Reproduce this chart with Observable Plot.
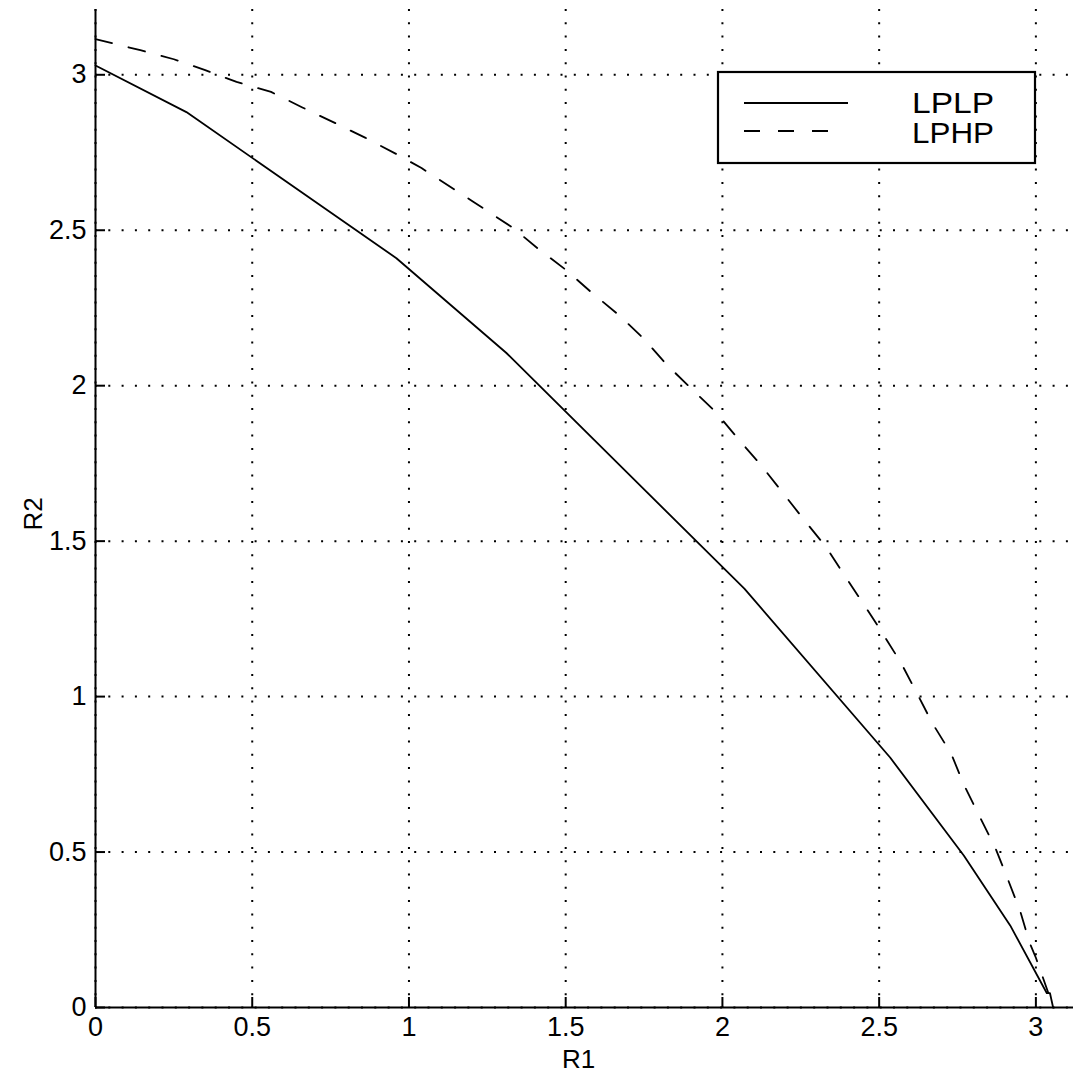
<!DOCTYPE html>
<html>
<head>
<meta charset="utf-8">
<script src="https://cdn.jsdelivr.net/npm/d3@7"></script>
<script src="https://cdn.jsdelivr.net/npm/@observablehq/plot@0.6"></script>
<style>
  html, body { margin: 0; padding: 0; background: white; }
  #chart { position: relative; width: 1087px; height: 1079px; }
</style>
</head>
<body>
<div id="chart"></div>
<script>
// Series: LPLP (solid)
const lplpR1 = [0, 0.29, 0.96, 1.31, 2.07, 2.535, 2.77, 2.918, 3.035, 3.045, 3.055];
const lplpR2 = [3.03, 2.88, 2.41, 2.106, 1.347, 0.804, 0.489, 0.264, 0.046, 0.046, 0];
// Series: LPHP (dashed)
const lphpR1 = [0, 0.143, 0.25, 0.35, 0.45, 0.56, 0.66, 0.76, 0.86, 0.96, 1.04, 1.2, 1.33, 1.41, 1.5, 1.58, 1.67, 1.75, 1.82, 1.9, 1.98, 2.05, 2.12, 2.19, 2.26, 2.33, 2.39, 2.45, 2.51, 2.57, 2.62, 2.67, 2.73, 2.77, 2.82, 2.87, 2.91, 2.95, 2.98, 3.0, 3.02, 3.04];
const lphpR2 = [3.115, 3.079, 3.05, 3.015, 2.977, 2.945, 2.895, 2.847, 2.798, 2.745, 2.70, 2.595, 2.509, 2.442, 2.373, 2.302, 2.227, 2.15, 2.07, 1.991, 1.914, 1.829, 1.748, 1.659, 1.569, 1.482, 1.389, 1.298, 1.205, 1.108, 1.012, 0.914, 0.816, 0.717, 0.615, 0.515, 0.414, 0.31, 0.208, 0.16, 0.103, 0.046];

const xTicks = [0, 0.5, 1, 1.5, 2, 2.5, 3];
const yTicks = [0, 0.5, 1, 1.5, 2, 2.5, 3];
const xDomain = [0, 3.12];
const yDomain = [0, 3.21];
const seriesNames = ["LPLP", "LPHP"];
const xTitle = "R1";
const yTitle = "R2";

const lplp = lplpR1.map((x, i) => ({x, y: lplpR2[i]}));
const lphp = lphpR1.map((x, i) => ({x, y: lphpR2[i]}));

const font = "'Liberation Sans', Arial, Helvetica, sans-serif";

const chart = Plot.plot({
  width: 1087,
  height: 1079,
  marginLeft: 95,
  marginRight: 14,
  marginTop: 9,
  marginBottom: 72,
  style: {fontFamily: font, fontSize: "27px", background: "white", color: "black", overflow: "visible"},
  x: {domain: xDomain},
  y: {domain: yDomain},
  marks: [
    Plot.gridX(xTicks, {stroke: "black", strokeOpacity: 1, strokeWidth: 2, strokeDasharray: "2,11.3"}),
    Plot.gridY(yTicks, {stroke: "black", strokeOpacity: 1, strokeWidth: 2, strokeDasharray: "2,11.3"}),
    Plot.axisX(xTicks, {tickSize: 0, tickPadding: 9, fontSize: 27, label: null, tickFormat: d3.format("")}),
    Plot.axisY(yTicks, {tickSize: 0, tickPadding: 9, fontSize: 27, label: null, tickFormat: d3.format("")}),
    Plot.axisX(xTicks, {tickSize: -10, text: null, label: null, strokeWidth: 2}),
    Plot.axisY(yTicks, {tickSize: -10, text: null, label: null, strokeWidth: 2}),
    Plot.ruleX([0], {stroke: "black", strokeWidth: 2}),
    Plot.ruleY([0], {stroke: "black", strokeWidth: 2}),
    Plot.line(lplp, {x: "x", y: "y", stroke: "black", strokeWidth: 1.8}),
    Plot.line(lphp, {x: "x", y: "y", stroke: "black", strokeWidth: 1.8, strokeDasharray: "17,17"}),
    Plot.text([xTitle], {text: d => d, frameAnchor: "bottom", dy: 60, dx: -6, fontSize: 26}),
    Plot.text([yTitle], {text: d => d, frameAnchor: "left", dx: -62, dy: 22, rotate: -90, fontSize: 26})
  ]
});

document.getElementById("chart").appendChild(chart);

// Make sure tick labels get the intended size
const svg = d3.select(chart);
svg.selectAll('g[aria-label="x-axis tick label"], g[aria-label="y-axis tick label"]')
  .attr("font-size", 27).style("font-size", "27px");

// Legend drawn inside the plot area (top right)
const lg = svg.append("g").attr("font-family", font).attr("text-anchor", "start");
lg.append("rect").attr("x", 718).attr("y", 72).attr("width", 317).attr("height", 91)
  .attr("fill", "white").attr("stroke", "black").attr("stroke-width", 2.2);
const styles = [null, "16,18"];
seriesNames.forEach((name, i) => {
  const yy = 103 + i * 28;
  lg.append("line").attr("x1", 744).attr("x2", i === 0 ? 848 : 832).attr("y1", yy).attr("y2", yy)
    .attr("stroke", "black").attr("stroke-width", 1.8)
    .attr("stroke-dasharray", styles[i]);
  lg.append("text").attr("x", 912).attr("y", 113 + i * 30).attr("font-size", 29)
    .attr("text-anchor", "start")
    .attr("textLength", 82).attr("lengthAdjust", "spacingAndGlyphs")
    .attr("fill", "black").text(name);
});
</script>
</body>
</html>
